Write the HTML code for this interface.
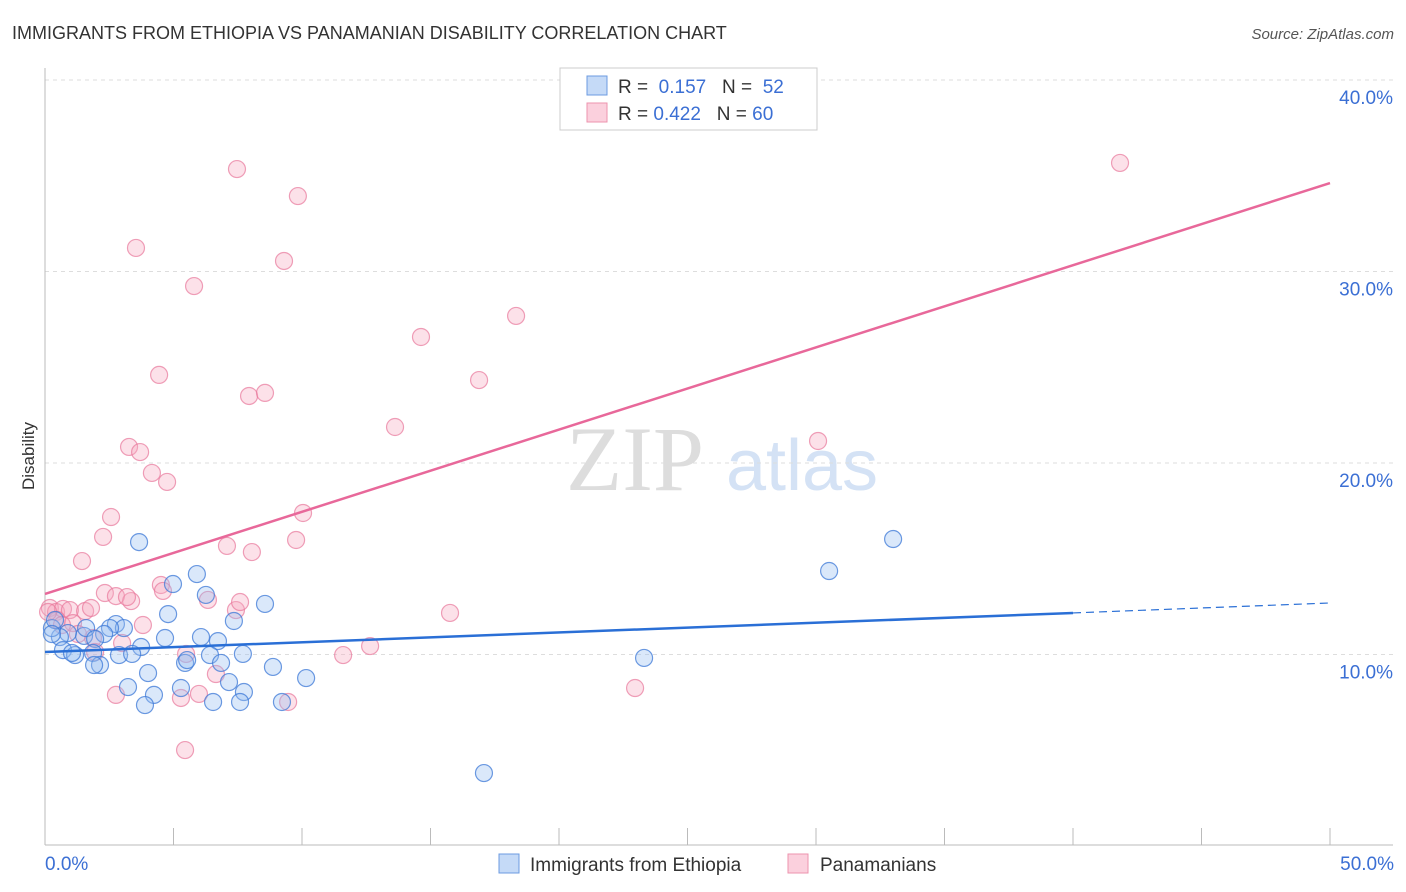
<!DOCTYPE html>
<html><head><meta charset="utf-8"><style>
body{margin:0;background:#fff;font-family:"Liberation Sans",sans-serif;}
svg{display:block}
</style></head><body>
<svg id="c" width="1406" height="892" xmlns="http://www.w3.org/2000/svg">
<text x="12" y="39" font-size="18" fill="#333">IMMIGRANTS FROM ETHIOPIA VS PANAMANIAN DISABILITY CORRELATION CHART</text>
<text x="1394" y="39" font-size="15" fill="#555" font-style="italic" text-anchor="end">Source: ZipAtlas.com</text>
<text x="34" y="456" font-size="17" fill="#333" text-anchor="middle" transform="rotate(-90 34 456)">Disability</text>
<g>
<text x="635" y="490" font-size="92" fill="#ddd" font-family="Liberation Serif" text-anchor="middle">ZIP</text>
<text x="802" y="490" font-size="72" fill="#d4e2f5" text-anchor="middle">atlas</text>
</g>
<g id="grid"></g>
<g id="axes"></g>
<g id="pts"></g>
<g id="trend"></g>
<g>
<rect x="560" y="68" width="257" height="62" fill="#fff" stroke="#ccc"/>
<rect x="587" y="76" width="20" height="19" fill="#c5daf7" stroke="#6c9be0"/>
<rect x="587" y="103" width="20" height="19" fill="#fbd0dd" stroke="#ec93ae"/>
<text x="618" y="93" font-size="19" fill="#333">R = <tspan fill="#3b6fd4">&#160;0.157</tspan>&#160;&#160;&#160;N = <tspan fill="#3b6fd4">&#160;52</tspan></text>
<text x="618" y="120" font-size="19" fill="#333">R = <tspan fill="#3b6fd4">0.422</tspan>&#160;&#160;&#160;N = <tspan fill="#3b6fd4">60</tspan></text>
</g>
<g>
<rect x="499" y="854" width="20" height="19" fill="#c5daf7" stroke="#6c9be0"/>
<text x="530" y="871" font-size="19" fill="#333">Immigrants from Ethiopia</text>
<rect x="788" y="854" width="20" height="19" fill="#fbd0dd" stroke="#ec93ae"/>
<text x="820" y="871" font-size="19" fill="#333">Panamanians</text>
</g>
</svg>
<script>
const xTicks=[0,5,10,15,20,25,30,35,40,45,50];
const yTicks=[10,20,30,40];
const yTickLabels=["10.0%","20.0%","30.0%","40.0%"];
const blueX=[3.66,4.98,5.91,4.79,6.26,8.56,7.35,6.73,6.07,4.67,3.74,2.76,3.07,2.53,2.30,1.52,1.60,1.95,0.89,0.58,0.27,0.39,0.27,0.70,1.17,1.05,1.87,2.88,3.39,2.14,1.91,5.45,6.42,6.85,7.70,8.87,10.16,4.01,3.23,4.24,5.29,7.16,7.74,3.89,6.54,7.59,9.22,23.31,30.51,33.00,17.08,5.53];
const blueY=[15.87,13.68,14.20,12.11,13.11,12.64,11.75,10.70,10.91,10.86,10.39,11.59,11.38,11.38,11.07,10.97,11.38,10.81,11.12,10.91,11.38,11.80,11.07,10.23,9.97,10.08,10.08,9.97,10.03,9.45,9.45,9.56,9.97,9.56,10.03,9.35,8.77,9.03,8.30,7.89,8.25,8.56,8.04,7.36,7.52,7.52,7.52,9.82,14.36,16.03,3.81,9.71];
const pinkX=[7.47,9.84,3.54,9.30,5.80,18.33,14.63,4.44,16.89,7.94,8.56,13.62,3.27,3.70,4.16,4.75,2.57,10.04,2.26,9.77,7.08,8.05,1.44,4.51,2.33,4.59,2.76,3.35,3.19,6.34,7.43,7.59,0.19,0.43,0.70,0.97,1.56,1.79,0.47,1.09,1.87,3.00,3.81,1.95,5.49,11.60,12.65,15.76,6.65,2.76,5.99,5.29,9.46,5.45,22.96,30.08,41.83,0.66,1.28,0.12];
const pinkY=[35.35,33.94,31.23,30.55,29.24,27.68,26.58,24.60,24.33,23.50,23.66,21.88,20.84,20.57,19.48,19.01,17.18,17.39,16.14,15.98,15.67,15.35,14.88,13.63,13.21,13.32,13.05,12.79,13.00,12.85,12.32,12.74,12.43,12.22,12.38,12.32,12.27,12.43,11.80,11.64,10.86,10.60,11.54,10.13,10.03,9.97,10.44,12.17,8.98,7.89,7.94,7.73,7.52,5.01,8.25,21.15,35.67,11.54,11.07,12.22];
const blueTrend=[10.13,12.17,12.69]; // at x=0, 40, 50
const pinkTrend=[13.16,34.62]; // at x=0, 50
const NS='http://www.w3.org/2000/svg';
const X=v=>45+v*25.7, Y=v=>846-v*19.15;
function mk(p,t,a){const e=document.createElementNS(NS,t);for(const k in a)e.setAttribute(k,a[k]);p.appendChild(e);return e;}
const grid=document.getElementById('grid'),axes=document.getElementById('axes'),pts=document.getElementById('pts'),tr=document.getElementById('trend');
yTicks.forEach((v,i)=>{
 const l=mk(grid,'line',{x1:45,x2:1393,y1:Y(v),y2:Y(v),stroke:'#ddd','stroke-dasharray':'4,4'});
 
 
 const t=mk(axes,'text',{x:1393,y:Y(v)+24,'font-size':19,fill:'#3b6fd4','text-anchor':'end'});
 t.textContent=yTickLabels[i];
 
 
});
mk(axes,'line',{x1:45,x2:45,y1:68,y2:845,stroke:'#bbb'});
mk(axes,'line',{x1:45,x2:1393,y1:845,y2:845,stroke:'#bbb'});
xTicks.forEach(v=>{
 const l=mk(axes,'line',{x1:X(v),x2:X(v),y1:828,y2:845,stroke:'#bbb'});
 
 
});
const x0=mk(axes,'text',{x:45,y:870,'font-size':19,fill:'#3b6fd4'});x0.textContent='0.0%';


const x1=mk(axes,'text',{x:1394,y:870,'font-size':19,fill:'#3b6fd4','text-anchor':'end'});x1.textContent='50.0%';


pinkX.forEach((v,i)=>{
 const c=mk(pts,'circle',{cx:X(v),cy:Y(pinkY[i]),r:8.5,fill:'rgba(246,168,192,0.35)',stroke:'rgba(232,120,155,0.7)','stroke-width':1.2});
 
 
});
blueX.forEach((v,i)=>{
 const c=mk(pts,'circle',{cx:X(v),cy:Y(blueY[i]),r:8.5,fill:'rgba(150,190,240,0.35)',stroke:'rgba(60,120,215,0.75)','stroke-width':1.2});
 
 
});
const pl=mk(tr,'line',{x1:X(0),y1:Y(pinkTrend[0]),x2:X(50),y2:Y(pinkTrend[1]),stroke:'#e8689a','stroke-width':2.5});


const bl=mk(tr,'line',{x1:X(0),y1:Y(blueTrend[0]),x2:X(40),y2:Y(blueTrend[1]),stroke:'#2a6fd6','stroke-width':2.5});


const bd=mk(tr,'line',{x1:X(40),y1:Y(blueTrend[1]),x2:X(50),y2:Y(blueTrend[2]),stroke:'#2a6fd6','stroke-width':1.2,'stroke-dasharray':'8,5'});


</script>
</body></html>
